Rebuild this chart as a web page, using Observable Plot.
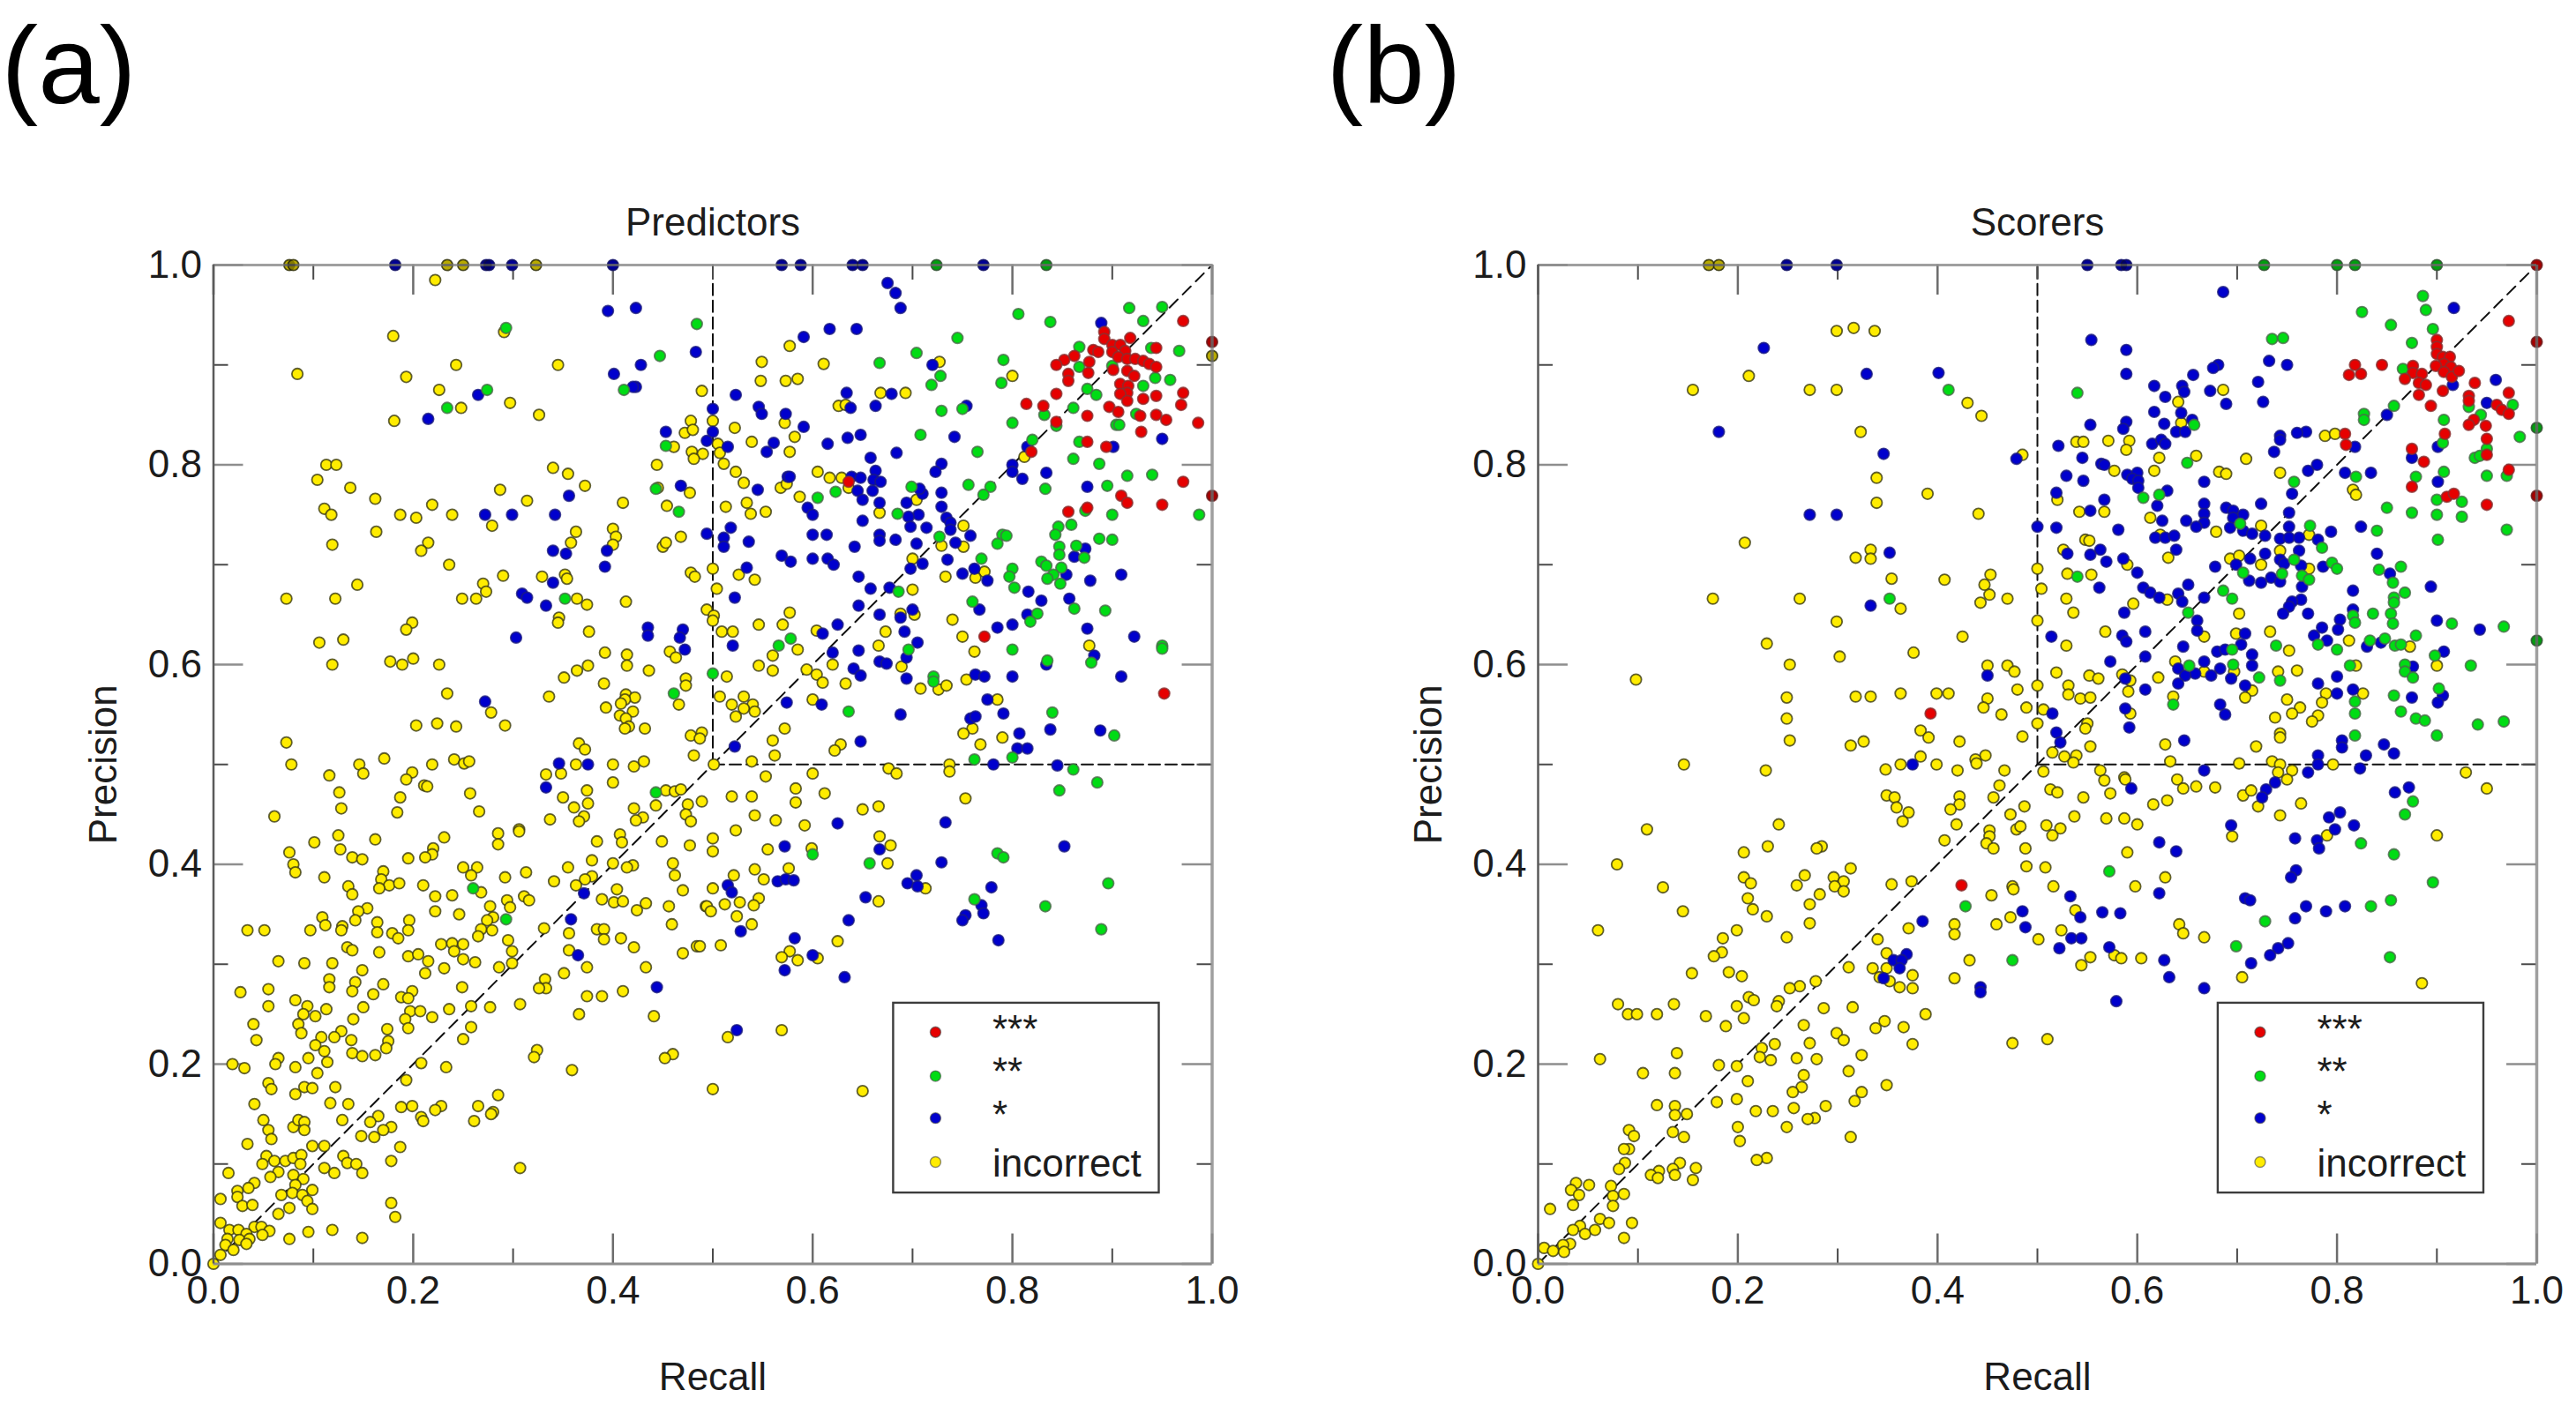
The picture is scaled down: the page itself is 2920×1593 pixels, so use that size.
<!DOCTYPE html>
<html><head><meta charset="utf-8">
<style>html,body{margin:0;padding:0;background:#fff}#wrap{position:relative;width:2920px;height:1593px;overflow:hidden}#wrap svg{position:absolute;top:0;overflow:visible}</style>
<script src="https://cdn.jsdelivr.net/npm/d3@7"></script>
<script src="https://cdn.jsdelivr.net/npm/@observablehq/plot@0.6"></script>
</head><body><div id="wrap"></div>
<script>
const predictorsIncorrect=[[.076,1],[.08,1],[.234,1],[.25,1],[.323,1],[.222,.985],[.18,.929],[.291,.933],[.243,.9],[.345,.9],[.084,.891],[.193,.888],[.226,.875],[.489,.874],[.297,.862],[.248,.857],[.326,.85],[.181,.844],[.478,.844],[.472,.832],[.48,.835],[.461,.818],[.479,.813],[.49,.811],[.481,.806],[.113,.8],[.123,.8],[.34,.797],[.444,.8],[.355,.791],[.104,.785],[.137,.777],[.372,.779],[.445,.777],[.477,.772],[.287,.775],[.162,.766],[.314,.764],[.41,.762],[.111,.756],[.118,.75],[.219,.76],[.187,.75],[.203,.747],[.239,.75],[.454,.759],[.279,.739],[.163,.733],[.363,.733],[.4,.736],[.403,.728],[.468,.728],[.45,.718],[.453,.722],[.119,.72],[.215,.722],[.208,.714],[.358,.722],[.4,.72],[.236,.7],[.478,.692],[.482,.688],[.29,.689],[.329,.688],[.352,.69],[.354,.686],[.144,.68],[.27,.681],[.273,.673],[.073,.666],[.122,.666],[.249,.666],[.263,.666],[.364,.666],[.374,.66],[.413,.663],[.494,.655],[.346,.647],[.345,.642],[.199,.642],[.193,.635],[.376,.633],[.13,.625],[.106,.622],[.457,.613],[.392,.612],[.414,.61],[.414,.599],[.463,.607],[.119,.6],[.177,.603],[.189,.6],[.2,.606],[.226,.6],[.375,.599],[.364,.594],[.436,.594],[.351,.587],[.391,.581],[.473,.586],[.473,.579],[.234,.571],[.336,.568],[.413,.57],[.422,.567],[.412,.565],[.408,.561],[.278,.552],[.393,.557],[.466,.56],[.42,.553],[.407,.549],[.413,.546],[.203,.539],[.224,.541],[.243,.538],[.292,.539],[.416,.538],[.412,.536],[.432,.536],[.073,.522],[.366,.521],[.372,.515],[.478,.529],[.489,.532],[.487,.526],[.078,.5],[.146,.5],[.171,.506],[.219,.5],[.241,.505],[.251,.501],[.256,.503],[.363,.5],[.4,.5],[.421,.498],[.431,.503],[.481,.509],
[.116,.489],[.15,.491],[.199,.492],[.193,.485],[.211,.479],[.214,.478],[.126,.472],[.187,.467],[.257,.471],[.333,.49],[.348,.491],[.35,.467],[.374,.474],[.4,.482],[.453,.474],[.462,.473],[.468,.475],[.489,.463],[.128,.456],[.184,.452],[.266,.453],[.361,.457],[.375,.461],[.443,.459],[.475,.46],[.421,.456],[.473,.45],[.478,.443],[.43,.447],[.423,.444],[.371,.448],[.366,.443],[.337,.445],[.061,.448],[.306,.435],[.306,.433],[.285,.431],[.285,.42],[.125,.429],[.101,.422],[.162,.425],[.231,.427],[.22,.416],[.219,.41],[.212,.407],[.195,.406],[.127,.415],[.139,.407],[.149,.405],[.076,.412],[.08,.4],[.082,.392],[.384,.423],[.407,.43],[.409,.422],[.449,.423],[.477,.419],[.379,.404],[.4,.401],[.46,.401],[.462,.389],[.42,.399],[.414,.397],[.355,.397],[.25,.397],[.264,.397],[.258,.389],[.292,.387],[.313,.392],[.111,.387],[.17,.393],[.168,.385],[.176,.379],[.186,.381],[.166,.376],[.135,.378],[.139,.37],[.21,.379],[.379,.388],[.372,.385],[.341,.383],[.363,.379],[.268,.372],[.222,.368],[.239,.369],[.404,.375],[.47,.374],[.311,.368],[.316,.364],[.294,.364],[.389,.365],[.401,.362],[.41,.363],[.433,.361],[.424,.354],[.456,.358],[.493,.358],[.277,.358],[.297,.357],[.154,.356],[.145,.353],[.222,.353],[.246,.35],[.109,.347],[.112,.339],[.142,.344],[.28,.347],[.274,.344],[.034,.334],[.051,.334],[.097,.334],[.129,.338],[.128,.334],[.164,.342],[.196,.344],[.195,.334],[.164,.332],[.179,.331],[.185,.326],[.268,.335],[.279,.334],[.265,.328],[.331,.336],[.356,.331],[.384,.335],[.391,.335],[.391,.325],[.459,.34],[.408,.326],[.421,.317],[.484,.318],[.47,.311],[.295,.324],[.228,.32],[.239,.321],[.25,.32],[.241,.313],[.134,.317],[.139,.314],[.166,.312],[.195,.308],[.205,.31],[.25,.305],[.299,.313],[.356,.314],[.065,.303],[.091,.301],[.119,.301],[.215,.303],[.262,.302],[.299,.301],[.286,.297],[.231,.296],[.374,.297],[.433,.297],[.149,.294],[.212,.291],[.351,.291],[.116,.285],[.116,.277],[.142,.282],[.139,.273],[.17,.28],[.332,.285],[.333,.276],[.326,.276],[.249,.277],[.027,.272],[.055,.275],[.41,.273],[.374,.268],[.389,.268],[.16,.27],[.199,.273],[.188,.267],[.195,.266],[.082,.264],[.055,.258],[.307,.26],[.094,.258],[.113,.255],[.09,.25],[.102,.248],[.15,.257],[.197,.253],[.207,.253],[.236,.255],[.258,.258],[.277,.257],[.14,.245],[.192,.245],[.219,.247],[.366,.25],[.441,.248],[.04,.24],[.085,.24],[.195,.236],[.174,.235],[.258,.237],[.088,.231],[.043,.224],[.128,.233],[.108,.227],[.121,.227],[.138,.224],[.175,.223],[.25,.225],[.102,.219],[.173,.216],[.111,.213],[.139,.211],[.149,.208],[.162,.209],[.324,.214],[.321,.207],[.46,.21],[.452,.206],[.095,.206],[.065,.206],[.062,.2],[.114,.202],[.019,.2],[.031,.196],[.208,.201],[.082,.197],[.233,.197],[.359,.194],[.104,.191],[.193,.184],[.055,.181],[.058,.175],[.091,.177],[.099,.176],[.122,.177],[.082,.17],[.285,.169],[.041,.16],[.117,.161],[.135,.16],[.188,.157],[.199,.158],[.228,.158],[.222,.154],[.265,.158],[.28,.152],[.278,.15],[.261,.143],[.208,.147],[.21,.143],[.165,.148],[.129,.144],[.05,.144],[.055,.134],[.058,.125],[.08,.137],[.085,.144],[.091,.142],[.091,.134],[.157,.142],[.178,.137],[.17,.134],[.148,.128],[.161,.127],[.034,.12],[.111,.118],[.099,.118],[.187,.117],[.053,.108],[.061,.103],[.049,.1],[.072,.103],[.08,.106],[.088,.109],[.087,.1],[.13,.108],[.134,.101],[.143,.1],[.149,.091],[.111,.096],[.121,.091],[.178,.103],[.307,.096],[.015,.091],[.065,.092],[.057,.087],[.08,.089],[.09,.085],[.041,.081],[.035,.076],[.024,.073],[.024,.067],[.082,.079],[.099,.074],[.068,.069],[.079,.071],[.089,.069],[.007,.065],[.029,.058],[.039,.059],[.094,.063],[.076,.056],[.099,.055],[.178,.061],[.182,.047],[.065,.05],[.007,.041],[.016,.034],[.025,.034],[.041,.037],[.048,.037],[.056,.033],[.049,.029],[.033,.03],[.014,.025],[.026,.024],[.036,.025],[.095,.032],[.119,.034],[.076,.025],[.149,.026],[.012,.019],[.02,.014],[.033,.02],[.007,.009],[0,0],
[1,.909],[.577,.919],[.727,.903],[.549,.903],[.611,.901],[.548,.884],[.573,.884],[.585,.886],[.8,.889],[.626,.859],[.633,.86],[.668,.872],[.693,.872],[.5,.844],[.572,.842],[.522,.837],[.505,.821],[.582,.828],[.539,.823],[.577,.813],[.507,.812],[.812,.808],[.511,.801],[.523,.793],[.531,.782],[.605,.793],[.617,.787],[.629,.787],[.636,.777],[.568,.777],[.574,.781],[.587,.768],[.704,.765],[.534,.762],[.513,.758],[.538,.751],[.553,.753],[.667,.752],[.751,.739],[.729,.719],[.751,.718],[.7,.706],[.5,.696],[.526,.69],[.542,.685],[.772,.693],[.763,.687],[.733,.688],[.7,.675],[.504,.676],[.501,.649],[.5,.644],[.577,.652],[.688,.651],[.702,.65],[.74,.645],[.546,.64],[.57,.64],[.509,.633],[.52,.633],[.604,.634],[.673,.633],[.75,.628],[.585,.615],[.877,.619],[.666,.619],[.762,.613],[.56,.609],[.546,.599],[.62,.6],[.594,.595],[.604,.59],[.56,.594],[.689,.598],[.514,.588],[.61,.582],[.754,.585],[.633,.581],[.708,.576],[.726,.575],[.734,.579],[.507,.568],[.531,.568],[.519,.56],[.54,.56],[.531,.556],[.523,.548],[.542,.553],[.6,.565],[.785,.565],[.572,.536],[.76,.536],[.751,.531],[.79,.527],[.56,.524],[.768,.52],[.628,.52],[.622,.514],[.562,.509],[.501,.5],[.539,.503],[.676,.496],[.684,.491],[.737,.5],[.737,.493],[.6,.491],[.553,.488],
[.519,.468],[.539,.468],[.583,.476],[.583,.462],[.612,.471],[.65,.455],[.666,.458],[.753,.466],[.542,.449],[.563,.444],[.592,.439],[.523,.434],[.5,.426],[.5,.413],[.667,.428],[.678,.419],[.555,.415],[.599,.416],[.675,.401],[.576,.396],[.521,.389],[.542,.395],[.551,.385],[.713,.376],[.5,.376],[.546,.366],[.666,.363],[.512,.36],[.527,.362],[.541,.359],[.494,.358],[.498,.353],[.524,.348],[.539,.34],[.508,.319],[.487,.318],[.625,.323],[.577,.313],[.569,.307],[.585,.304],[.605,.306],[.515,.227],[.569,.234],[.5,.175],[.65,.173]];
const predictorsOneStar=[[.182,1],[.273,1],[.276,1],[.299,1],[.4,1],[.395,.954],[.423,.957],[.483,.913],[.428,.9],[.401,.891],[.423,.878],[.42,.878],[.265,.87],[.215,.846],[.453,.833],[.494,.824],[.468,.779],[.356,.769],[.272,.75],[.299,.75],[.342,.75],[.494,.731],[.34,.714],[.353,.711],[.394,.714],[.392,.698],[.34,.682],[.309,.671],[.314,.667],[.333,.659],[.435,.637],[.435,.629],[.47,.635],[.467,.627],[.303,.627],[.472,.615],[.272,.563],[.346,.501],[.375,.5],[.333,.477],[.371,.371],[.358,.345],[.365,.309],[.444,.277],
[.569,1],[.588,1],[.64,1],[.65,1],[.771,1],[.675,.982],[.683,.972],[.688,.957],[.889,.942],[.644,.936],[.617,.936],[.591,.928],[.72,.9],[.754,.859],[.663,.859],[.638,.857],[.634,.872],[.679,.871],[.523,.87],[.5,.856],[.546,.858],[.549,.851],[.573,.851],[.591,.838],[.648,.83],[.635,.827],[.5,.833],[.561,.822],[.615,.821],[.515,.818],[.554,.813],[.684,.812],[.742,.828],[.815,.818],[.901,.818],[.95,.826],[.658,.807],[.729,.801],[.723,.793],[.8,.8],[.8,.793],[.834,.792],[.81,.786],[.663,.794],[.575,.788],[.577,.788],[.639,.788],[.648,.787],[.661,.785],[.668,.783],[.71,.771],[.707,.776],[.729,.772],[.545,.775],[.645,.774],[.66,.774],[.875,.778],[.65,.765],[.667,.762],[.694,.762],[.729,.758],[.595,.757],[.6,.75],[.706,.75],[.696,.748],[.734,.747],[.65,.744],[.738,.742],[.698,.738],[.714,.737],[.738,.735],[.518,.737],[.511,.727],[.511,.718],[.536,.723],[.6,.73],[.614,.73],[.667,.73],[.667,.724],[.683,.725],[.758,.729],[.704,.721],[.642,.718],[.743,.722],[.873,.716],[.862,.708],[.569,.709],[.578,.703],[.6,.706],[.615,.706],[.621,.7],[.71,.701],[.735,.705],[.534,.697],[.698,.696],[.762,.696],[.75,.691],[.775,.684],[.854,.69],[.909,.69],[.878,.684],[.646,.688],[.658,.676],[.677,.677],[.816,.673],[.522,.667],[.829,.664],[.857,.666],[.767,.655],[.646,.659],[.7,.655],[.667,.65],[.688,.647],[.815,.65],[.625,.64],[.61,.631],[.692,.633],[.8,.64],[.785,.637],[.875,.636],[.52,.619],[.922,.628],[.705,.622],[.62,.612],[.646,.614],[.882,.609],[.694,.607],[.834,.6],[.667,.603],[.674,.601],[.641,.596],[.648,.589],[.694,.586],[.763,.59],[.772,.588],[.8,.588],[.909,.588],[.574,.562],[.609,.56],[.775,.565],[.688,.55],[.758,.546],[.763,.548],[.791,.551],[.838,.535],[.888,.534],[.807,.531],[.522,.518],[.648,.523],[.805,.516],[.815,.516],[.781,.5],[.845,.499],
[.625,.441],[.733,.442],[.667,.415],[.572,.418],[.852,.418],[.729,.402],[.565,.383],[.573,.385],[.581,.384],[.704,.389],[.695,.381],[.705,.378],[.779,.377],[.515,.379],[.519,.372],[.653,.367],[.769,.359],[.771,.351],[.753,.349],[.75,.344],[.636,.344],[.528,.333],[.582,.326],[.786,.324],[.6,.309],[.572,.294],[.632,.287],[.524,.234]];
const predictorsTwoStars=[[.484,.941],[.293,.937],[.447,.909],[.411,.875],[.274,.875],[.234,.857],[.453,.819],[.443,.776],[.466,.753],[.352,.666],[.461,.571],[.443,.472],[.26,.376],[.293,.345],
[.724,1],[.834,1],[.806,.951],[.838,.943],[.917,.957],[.95,.958],[.931,.944],[.745,.927],[.704,.912],[.667,.902],[.791,.905],[.728,.889],[.719,.88],[.789,.882],[.939,.917],[.867,.918],[.967,.914],[.867,.898],[.9,.899],[.943,.887],[.958,.885],[.931,.879],[.875,.876],[.884,.87],[.75,.856],[.729,.854],[.861,.857],[.832,.85],[.924,.851],[.8,.842],[.844,.839],[.904,.84],[.907,.84],[.708,.83],[.765,.813],[.82,.825],[.867,.823],[.861,.806],[.887,.801],[.915,.789],[.94,.79],[.756,.78],[.778,.778],[.771,.77],[.699,.778],[.623,.773],[.833,.776],[.895,.779],[.605,.767],[.685,.751],[.873,.754],[.9,.75],[.987,.75],[.859,.74],[.846,.738],[.843,.73],[.727,.728],[.79,.73],[.794,.729],[.785,.721],[.887,.726],[.9,.725],[.847,.718],[.864,.719],[.847,.71],[.872,.707],[.769,.706],[.829,.703],[.834,.699],[.849,.697],[.8,.696],[.797,.688],[.841,.69],[.835,.686],[.848,.681],[.802,.677],[.686,.673],[.76,.663],[.862,.656],[.893,.654],[.825,.651],[.818,.643],[.578,.626],[.566,.619],[.95,.619],[.95,.616],[.696,.615],[.8,.615],[.835,.604],[.879,.602],[.5,.591],[.721,.588],[.721,.583],[.636,.553],[.84,.552],[.902,.529],[.8,.507],[.762,.505],[.861,.495],
[.885,.482],[.847,.474],[.6,.41],[.785,.411],[.791,.407],[.657,.401],[.896,.381],[.762,.365],[.833,.358],[.889,.335]];
const predictorsThreeStars=[[.971,.944],[1,.923],[.892,.933],[.892,.926],[.918,.927],[.9,.92],[.908,.92],[.881,.915],[.886,.913],[.9,.913],[.913,.914],[.944,.917],[.862,.909],[.852,.905],[.844,.9],[.906,.908],[.915,.906],[.923,.906],[.931,.904],[.937,.901],[.944,.898],[.877,.903],[.876,.892],[.901,.895],[.915,.894],[.856,.891],[.856,.884],[.922,.889],[.908,.881],[.916,.879],[.915,.872],[.908,.871],[.844,.871],[.971,.872],[.944,.869],[.931,.866],[.915,.864],[.969,.86],[.814,.861],[.831,.859],[.897,.858],[.906,.853],[.875,.849],[.928,.849],[.944,.85],[.954,.845],[.986,.842],[.844,.843],[.929,.833],[.819,.813],[.875,.823],[.894,.818],[.636,.783],[.971,.783],[.909,.769],[.915,.762],[1,.769],[.856,.753],[.875,.757],[.95,.76],[.772,.628],[.952,.571]];

const scorersIncorrect=[[.171,1],[.181,1],[.316,.937],[.299,.934],[.337,.934],[.211,.889],[.155,.875],[.272,.875],[.299,.875],[.43,.862],[.444,.849],[.323,.833],[.485,.81],[.339,.787],[.39,.771],[.339,.762],[.441,.751],[.207,.722],[.333,.715],[.333,.706],[.318,.707],[.354,.686],[.407,.685],[.453,.69],[.447,.68],[.452,.67],[.443,.662],[.47,.666],[.175,.666],[.262,.666],[.363,.656],[.299,.643],[.425,.628],[.229,.621],[.376,.612],[.302,.608],[.252,.6],[.45,.599],[.47,.599],[.477,.593],[.098,.585],[.48,.575],[.363,.571],[.399,.571],[.411,.571],[.318,.568],[.333,.568],[.249,.567],[.45,.566],[.446,.557],[.489,.557],[.464,.55],[.249,.546],[.383,.534],[.391,.527],[.252,.524],[.326,.523],[.313,.519],[.422,.523],[.485,.528],[.383,.508],[.146,.5],[.363,.5],[.399,.5],[.448,.509],[.438,.505],[.439,.501],[.228,.494],[.348,.495],[.42,.494],[.467,.494],
[.462,.479],[.349,.469],[.357,.467],[.422,.468],[.422,.46],[.456,.467],[.359,.457],[.371,.452],[.413,.455],[.473,.45],[.487,.458],[.365,.443],[.419,.44],[.479,.435],[.483,.438],[.109,.435],[.241,.44],[.452,.434],[.452,.428],[.407,.424],[.449,.421],[.456,.416],[.488,.416],[.23,.418],[.284,.418],[.279,.416],[.206,.412],[.079,.4],[.489,.398],[.313,.396],[.267,.389],[.296,.387],[.306,.383],[.206,.387],[.213,.381],[.259,.379],[.297,.378],[.306,.373],[.354,.38],[.374,.383],[.125,.377],[.475,.378],[.476,.375],[.282,.37],[.454,.369],[.21,.366],[.215,.355],[.272,.36],[.145,.353],[.229,.348],[.473,.347],[.272,.341],[.417,.34],[.417,.33],[.459,.34],[.371,.336],[.06,.334],[.199,.334],[.249,.327],[.185,.326],[.34,.325],[.184,.312],[.176,.308],[.349,.311],[.432,.304],[.311,.297],[.335,.296],[.349,.296],[.154,.291],[.191,.292],[.204,.288],[.375,.289],[.342,.287],[.417,.286],[.352,.283],[.278,.283],[.262,.278],[.252,.276],[.362,.277],[.375,.276],[.211,.267],[.216,.264],[.241,.263],[.239,.258],[.08,.26],[.136,.26],[.199,.258],[.286,.256],[.315,.257],[.09,.25],[.099,.25],[.119,.25],[.168,.248],[.206,.246],[.388,.25],[.347,.243],[.338,.236],[.366,.237],[.188,.238],[.266,.239],[.299,.231],[.306,.224],[.272,.221],[.237,.22],[.375,.22],[.475,.221],[.224,.216],[.139,.211],[.222,.207],[.233,.204],[.259,.206],[.279,.205],[.324,.209],[.062,.205],[.181,.199],[.199,.198],[.105,.191],[.137,.191],[.311,.193],[.266,.189],[.21,.183],[.264,.177],[.349,.179],[.255,.172],[.324,.172],[.317,.163],[.179,.162],[.199,.165],[.119,.159],[.137,.158],[.288,.158],[.256,.156],[.218,.153],[.235,.153],[.137,.149],[.149,.15],[.277,.146],[.27,.145],[.249,.137],[.2,.137],[.091,.134],[.096,.128],[.135,.132],[.146,.127],[.313,.127],[.202,.123],[.091,.115],[.086,.115],[.229,.106],[.219,.104],[.087,.101],[.081,.095],[.142,.101],[.158,.096],[.121,.093],[.113,.089],[.12,.086],[.135,.095],[.137,.089],[.155,.084],[.038,.081],[.033,.074],[.051,.079],[.041,.069],[.073,.078],[.075,.068],[.086,.07],[.035,.059],[.075,.058],[.012,.055],[.062,.045],[.071,.041],[.094,.041],[.057,.034],[.042,.038],[.035,.034],[.047,.03],[.086,.026],[.032,.02],[.025,.019],[.006,.016],[.015,.013],[.026,.012],[0,0],
[.686,.875],[.641,.863],[.644,.842],[.788,.829],[.798,.831],[.539,.823],[.546,.823],[.571,.824],[.592,.824],[.589,.815],[.659,.809],[.622,.807],[.709,.806],[.577,.794],[.617,.794],[.682,.793],[.689,.791],[.743,.792],[.816,.775],[.819,.77],[.52,.765],[.542,.753],[.567,.753],[.613,.747],[.724,.739],[.679,.733],[.772,.73],[.623,.73],[.548,.725],[.552,.724],[.526,.715],[.743,.714],[.631,.707],[.693,.706],[.702,.709],[.59,.7],[.724,.7],[.5,.696],[.53,.691],[.554,.69],[.772,.696],[.504,.676],[.529,.666],[.63,.665],[.596,.661],[.536,.652],[.702,.651],[.5,.644],[.568,.633],[.733,.633],[.699,.631],[.667,.628],[.812,.624],[.873,.618],[.529,.619],[.752,.614],[.638,.603],[.819,.599],[.9,.599],[.519,.592],[.697,.593],[.667,.593],[.552,.589],[.561,.586],[.585,.59],[.741,.593],[.76,.594],[.593,.584],[.621,.587],[.531,.579],[.5,.579],[.591,.573],[.789,.571],[.826,.571],[.715,.574],[.708,.567],[.531,.57],[.543,.566],[.553,.567],[.636,.568],[.75,.565],[.785,.562],[.593,.551],[.763,.557],[.755,.551],[.781,.549],[.775,.543],[.738,.547],[.506,.555],[.5,.541],[.55,.541],[.548,.536],[.743,.531],[.743,.527],[.553,.518],[.628,.52],[.719,.518],[.515,.512],[.527,.508],[.539,.509],[.536,.502],[.633,.503],[.702,.501],[.735,.503],[.743,.5],[.796,.5],[.506,.493],[.563,.494],[.741,.492],[.755,.494],[.929,.492],[.587,.487],[.64,.485],
[.567,.484],[.588,.485],[.573,.471],[.646,.476],[.659,.478],[.678,.477],[.513,.475],[.52,.472],[.546,.467],[.63,.464],[.616,.46],[.706,.469],[.714,.474],[.75,.485],[.721,.458],[.764,.461],[.743,.449],[.95,.476],[.537,.448],[.509,.439],[.523,.436],[.515,.429],[.569,.446],[.587,.446],[.6,.44],[.695,.428],[.79,.429],[.9,.429],[.59,.412],[.508,.397],[.628,.387],[.516,.378],[.598,.378],[.538,.354],[.642,.34],[.646,.331],[.667,.327],[.524,.334],[.501,.325],[.553,.307],[.544,.299],[.577,.309],[.584,.306],[.604,.306],[.705,.287],[.885,.281],[.51,.225]];
const scorersOneStar=[[.249,1],[.299,1],[.226,.917],[.329,.891],[.401,.892],[.181,.833],[.346,.811],[.479,.806],[.272,.75],[.299,.75],[.352,.712],[.333,.659],[.45,.589],[.375,.5],[.485,.353],[.488,.337],[.385,.343],[.369,.31],[.356,.304],[.364,.304],[.362,.296],[.346,.286],[.443,.277],[.443,.272],
[.55,1],[.584,1],[.589,1],[.686,.973],[.917,.957],[.554,.925],[.589,.915],[.732,.904],[.75,.9],[.681,.9],[.676,.897],[.589,.891],[.656,.89],[.721,.883],[.916,.88],[.959,.885],[.617,.879],[.645,.879],[.673,.874],[.647,.873],[.628,.868],[.95,.862],[.726,.863],[.689,.861],[.85,.85],[.617,.853],[.644,.852],[.589,.843],[.586,.836],[.553,.84],[.627,.841],[.655,.845],[.639,.833],[.648,.833],[.769,.833],[.76,.832],[.743,.829],[.521,.819],[.615,.821],[.624,.825],[.628,.821],[.743,.825],[.818,.818],[.901,.818],[.875,.807],[.737,.813],[.545,.807],[.564,.801],[.567,.8],[.78,.8],[.771,.794],[.529,.789],[.59,.79],[.6,.792],[.595,.786],[.546,.784],[.601,.784],[.601,.777],[.808,.792],[.834,.792],[.901,.783],[.667,.783],[.63,.774],[.755,.771],[.519,.772],[.567,.765],[.62,.759],[.667,.761],[.724,.761],[.689,.757],[.696,.754],[.553,.754],[.752,.752],[.667,.751],[.706,.75],[.696,.747],[.625,.744],[.649,.744],[.667,.742],[.659,.738],[.5,.738],[.519,.737],[.581,.735],[.693,.737],[.752,.738],[.824,.738],[.706,.734],[.715,.731],[.728,.729],[.794,.733],[.618,.727],[.628,.727],[.637,.729],[.743,.726],[.752,.727],[.762,.727],[.781,.725],[.53,.711],[.563,.715],[.553,.71],[.639,.715],[.762,.714],[.728,.711],[.84,.711],[.713,.706],[.586,.706],[.569,.703],[.743,.705],[.747,.701],[.699,.7],[.764,.699],[.786,.698],[.678,.698],[.6,.692],[.853,.691],[.712,.684],[.724,.682],[.734,.687],[.743,.683],[.894,.678],[.651,.68],[.562,.677],[.765,.678],[.606,.677],[.613,.672],[.622,.667],[.816,.674],[.641,.671],[.667,.667],[.645,.663],[.764,.665],[.755,.663],[.752,.658],[.587,.652],[.746,.651],[.771,.651],[.816,.655],[.803,.645],[.9,.644],[.943,.635],[.66,.644],[.66,.634],[.785,.637],[.801,.635],[.608,.633],[.708,.631],[.585,.629],[.589,.623],[.514,.628],[.777,.629],[.79,.624],[.704,.62],[.83,.618],[.844,.622],[.646,.618],[.68,.613],[.688,.615],[.907,.613],[.715,.61],[.715,.599],[.608,.608],[.573,.603],[.667,.603],[.876,.598],[.641,.596],[.683,.596],[.658,.591],[.648,.589],[.674,.589],[.588,.586],[.694,.586],[.8,.588],[.781,.581],[.641,.581],[.708,.579],[.608,.575],[.816,.575],[.906,.569],[.8,.571],[.875,.567],[.901,.562],[.683,.56],[.688,.55],[.588,.556],[.515,.551],[.592,.537],[.519,.532],[.805,.524],[.647,.524],[.523,.522],[.805,.517],[.847,.52],[.857,.511],[.781,.509],[.829,.509],[.781,.5],[.823,.496],[.667,.494],[.771,.492],
[.594,.476],[.738,.482],[.729,.475],[.725,.467],[.858,.472],[.872,.477],[.694,.439],[.792,.447],[.803,.452],[.817,.439],[.798,.435],[.758,.426],[.78,.424],[.782,.416],[.622,.422],[.639,.413],[.759,.394],[.754,.387],[.533,.368],[.622,.371],[.708,.366],[.713,.364],[.769,.358],[.808,.358],[.789,.353],[.543,.347],[.565,.352],[.583,.351],[.758,.346],[.534,.326],[.544,.326],[.522,.316],[.572,.317],[.751,.321],[.741,.316],[.733,.309],[.627,.304],[.714,.301],[.632,.287],[.667,.276],[.579,.263]];
const scorersTwoStars=[[.411,.875],[.352,.666],[.428,.358],[.475,.304],
[.727,1],[.8,1],[.818,1],[.9,1],[.886,.969],[.889,.955],[.825,.953],[.854,.94],[.896,.936],[.735,.926],[.746,.927],[.875,.922],[.866,.896],[.54,.872],[.857,.859],[.976,.86],[.932,.858],[.827,.851],[.827,.845],[.944,.85],[.907,.845],[1,.837],[.657,.84],[.983,.828],[.906,.822],[.95,.816],[.65,.802],[.938,.807],[.943,.809],[.819,.788],[.907,.793],[.95,.789],[.97,.789],[.879,.788],[.757,.783],[.622,.77],[.606,.767],[.9,.765],[.925,.763],[.85,.757],[.875,.752],[.9,.75],[.925,.748],[.703,.741],[.773,.739],[.97,.735],[.84,.734],[.901,.725],[.785,.717],[.757,.705],[.795,.702],[.8,.696],[.864,.698],[.842,.695],[.54,.688],[.706,.692],[.745,.691],[.765,.689],[.772,.685],[.856,.682],[.686,.674],[.695,.666],[.868,.672],[.857,.667],[.857,.662],[.651,.652],[.836,.651],[.854,.651],[.816,.649],[.818,.642],[.856,.641],[.915,.641],[.967,.638],[.879,.629],[1,.624],[.781,.62],[.833,.624],[.848,.626],[.858,.619],[.864,.62],[.739,.619],[.8,.615],[.695,.615],[.898,.609],[.696,.6],[.652,.599],[.868,.6],[.813,.599],[.934,.599],[.868,.593],[.722,.587],[.743,.584],[.876,.587],[.902,.576],[.857,.569],[.636,.56],[.818,.563],[.864,.553],[.818,.551],[.879,.546],[.888,.544],[.941,.54],[.967,.543],[.818,.529],[.9,.529],
[.876,.463],[.868,.45],[.824,.421],[.857,.41],[.572,.393],[.896,.382],[.854,.364],[.834,.358],[.728,.343],[.699,.318],[.853,.307]];
const scorersThreeStars=[[1,1],[.393,.551],[.424,.379],[.972,.944],[1,.923],[.9,.925],[.9,.918],[.9,.911],[.906,.908],[.913,.908],[.907,.901],[.914,.898],[.899,.899],[.845,.9],[.818,.9],[.812,.89],[.824,.891],[.876,.899],[.876,.892],[.885,.891],[.868,.886],[.907,.893],[.915,.888],[.922,.894],[.882,.882],[.889,.88],[.938,.882],[.906,.874],[.882,.87],[.932,.869],[.932,.864],[.972,.872],[.96,.86],[.894,.859],[.965,.855],[.972,.851],[.937,.845],[.932,.84],[.949,.839],[.808,.831],[.809,.82],[.908,.831],[.95,.826],[.875,.816],[.95,.81],[.887,.803],[.972,.795],[.875,.778],[.91,.768],[.917,.771],[1,.769],[.95,.76]];

const xTickLabels=[0,.2,.4,.6,.8,1];
const minorTicks=[.1,.3,.5,.7,.9];
const legendLabels=["***","**","*","incorrect"];
const legendColors=["#e60000","#00dc14","#0000cd","#ffec00"];
const legendY=[.232,.188,.146,.102];
const legendTextY=[.222,.179,.136,.087];

const axisGrey="#8e8e8e", axisDark="#4a4a4a", ink="#1c1c1c";
const W=1460,H=1593;
function dots(data,fill,stroke){
  return Plot.dot(data,{x:d=>d[0],y:d=>d[1],r:6.2,fill,stroke,strokeWidth:1.8,strokeOpacity:.8});
}
function panel(tag,title,left,right,groups,tagX){
  const Major=.03,Minor=.015;
  const edge=groups.flatMap(g=>g.data).filter(d=>d[0]===1||d[1]===1);
  const fig=Plot.plot({
    width:W,height:H,
    marginLeft:left,marginRight:right,marginTop:300,marginBottom:160.5,
    x:{domain:[0,1]},y:{domain:[0,1]},
    style:{fontFamily:"'Liberation Sans',Arial,sans-serif",fontSize:"43px",background:"transparent",color:ink,overflow:"visible"},
    marks:[
      Plot.line([[0,0],[1,1]],{x:d=>d[0],y:d=>d[1],stroke:"#111",strokeWidth:2,strokeDasharray:"13 8"}),
      Plot.line([[.5,.5],[.5,1]],{x:d=>d[0],y:d=>d[1],stroke:"#111",strokeWidth:2,strokeDasharray:"13 6"}),
      Plot.line([[.5,.5],[1,.5]],{x:d=>d[0],y:d=>d[1],stroke:"#111",strokeWidth:2,strokeDasharray:"13 6"}),
      // ticks on all four sides, pointing inward
      Plot.ruleX(xTickLabels,{y1:0,y2:Major,stroke:"#6c6c6c",strokeWidth:2.5}),
      Plot.ruleX(xTickLabels,{y1:1,y2:1-Major,stroke:"#6c6c6c",strokeWidth:2.5}),
      Plot.ruleX(minorTicks,{y1:0,y2:Minor,stroke:axisDark,strokeWidth:2}),
      Plot.ruleX(minorTicks,{y1:1,y2:1-Minor,stroke:axisDark,strokeWidth:2}),
      Plot.ruleY(xTickLabels,{x1:0,x2:Major,stroke:axisGrey,strokeWidth:2.5}),
      Plot.ruleY(xTickLabels,{x1:1,x2:1-Major,stroke:axisGrey,strokeWidth:2.5}),
      Plot.ruleY(minorTicks,{x1:0,x2:Minor,stroke:axisDark,strokeWidth:2}),
      Plot.ruleY(minorTicks,{x1:1,x2:1-Minor,stroke:axisDark,strokeWidth:2}),
      ...groups.map(g=>dots(g.data,g.fill,g.stroke)),
      // frame
      Plot.ruleY([1],{stroke:axisGrey,strokeWidth:3,strokeOpacity:.85}),
      Plot.ruleY([0],{stroke:axisGrey,strokeWidth:3}),
      Plot.ruleX([1],{stroke:axisGrey,strokeWidth:3.5,strokeOpacity:.85}),
      Plot.ruleX([0],{stroke:"#5a5a5a",strokeWidth:2.5}),
      // points sitting on the frame read darker in the reference
      Plot.dot(edge,{x:d=>d[0],y:d=>d[1],r:6.6,fill:"#000",fillOpacity:.28}),
      Plot.axisX(xTickLabels,{anchor:"bottom",tickSize:0,tickPadding:14,tickFormat:d3.format(".1f"),label:"Recall",labelAnchor:"center",labelOffset:143,labelArrow:"none",fontVariant:"normal",fontSize:44}),
      Plot.axisY(xTickLabels,{anchor:"left",tickSize:0,tickPadding:13,tickFormat:d3.format(".1f"),label:"Precision",labelAnchor:"center",labelOffset:141,labelArrow:"none",fontVariant:"normal",fontSize:44}),
      Plot.text([title],{x:()=>.5,y:()=>1,dy:-48,lineAnchor:"middle",fontSize:44,fill:ink}),
      Plot.text([tag],{x:()=>0,y:()=>1,frameAnchor:"top-left",dx:-left+tagX,dy:-300+116,lineAnchor:"bottom",textAnchor:"start",fontSize:125,fill:"#000"}),
      // legend
      Plot.rect([[.681,.071,.947,.261]],{x1:d=>d[0],y1:d=>d[1],x2:d=>d[2],y2:d=>d[3],fill:"#fff",stroke:"#3d3d3d",strokeWidth:2.4}),
      Plot.dot(legendColors.map((c,i)=>[.723,legendY[i],c]),{x:d=>d[0],y:d=>d[1],fill:d=>d[2],r:6,stroke:"#444",strokeWidth:1.4,strokeOpacity:.6}),
      Plot.text(legendLabels.map((t,i)=>[.78,legendTextY[i],t]),{x:d=>d[0],y:d=>d[1],text:d=>d[2],textAnchor:"start",lineAnchor:"bottom",fontSize:44,fill:ink})
    ]
  });
  return fig;
}
const wrap=document.getElementById("wrap");
const groupsFor=(y,b,g,r)=>[
  {data:y,fill:"#ffec00",stroke:"#3a3a10"},
  {data:b,fill:"#0000cd",stroke:"#1a1a80"},
  {data:g,fill:"#00dc14",stroke:"#4a6a4a"},
  {data:r,fill:"#e60000",stroke:"#8a3030"}
];
const a=panel("(a)","Predictors",241.5,86.5,groupsFor(predictorsIncorrect,predictorsOneStar,predictorsTwoStars,predictorsThreeStars),1);
a.style.left="0px";
const b=panel("(b)","Scorers",283,45,groupsFor(scorersIncorrect,scorersOneStar,scorersTwoStars,scorersThreeStars),43);
b.style.left="1460px";
wrap.append(a,b);
</script></body></html>
